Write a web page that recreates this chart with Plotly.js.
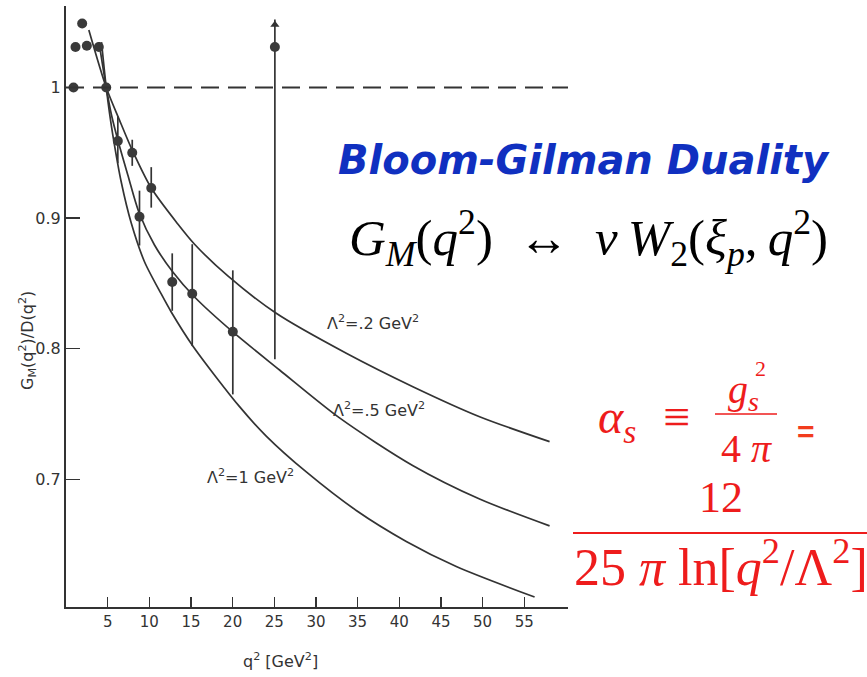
<!DOCTYPE html>
<html><head><meta charset="utf-8">
<script src="https://cdn.plot.ly/plotly-3.0.1.min.js"></script>
<style>html,body{margin:0;padding:0;background:#fff;} #chart{width:867px;height:677px;}</style>
</head><body><div id="chart"></div>
<script>
// ---- data ----
// points without error bars
const pointQ2    = [0.90, 1.14, 1.94, 2.50, 3.94, 4.83];
const pointRatio = [1.000, 1.031, 1.049, 1.032, 1.031, 1.000];

// points with error bars
const errQ2     = [6.22, 7.95, 8.82, 10.23, 12.75, 15.15, 20.02, 25.07];
const errRatio  = [0.959, 0.950, 0.901, 0.923, 0.851, 0.842, 0.813, 1.031];
const errPlus   = [0.019, 0.010, 0.020, 0.016, 0.022, 0.038, 0.047, 0.021];
const errMinus  = [0.017, 0.010, 0.022, 0.015, 0.022, 0.040, 0.048, 0.239];

// arrow head on the open-ended error bar
const arrowQ2    = [25.07];
const arrowRatio = [1.048];

// theory curves
const curveA_q2 = [2.74, 4.83, 6.42, 8.02, 10.23, 13.42, 15.43, 19.42, 25.23, 33.64, 41.63, 49.64, 58.04];
const curveA_y  = [1.044, 1.000, 0.975, 0.951, 0.923, 0.8955, 0.880, 0.8557, 0.8271, 0.7965, 0.7709, 0.7479, 0.7288];

const curveB_q2 = [3.96, 4.83, 5.46, 6.22, 7.42, 8.74, 10.62, 12.82, 15.43, 19.99, 25.63, 32.83, 41.60, 49.64, 58.04];
const curveB_y  = [1.0348, 1.000, 0.9789, 0.9598, 0.9330, 0.9047, 0.8794, 0.8587, 0.8396, 0.8130, 0.7837, 0.7470, 0.7106, 0.6849, 0.6643];

const curveC_q2 = [4.26, 4.83, 5.22, 5.62, 6.63, 7.83, 9.42, 11.43, 12.63, 15.22, 20.83, 24.03, 28.84, 34.84, 40.84, 46.84, 56.24];
const curveC_y  = [1.0348, 1.000, 0.9805, 0.9636, 0.9276, 0.8962, 0.8666, 0.8419, 0.8281, 0.8021, 0.7556, 0.7331, 0.7056, 0.6761, 0.6524, 0.6332, 0.6098];

const curveLabels = ['\u039B<sup>2</sup>=.2 GeV<sup>2</sup>', '\u039B<sup>2</sup>=.5 GeV<sup>2</sup>', '\u039B<sup>2</sup>=1 GeV<sup>2</sup>'];
const curveLabelQ2 = [36.9, 37.6, 22.15];
const curveLabelY  = [0.8204, 0.7531, 0.7018];

const xTickVals = [5, 10, 15, 20, 25, 30, 35, 40, 45, 50, 55];
const xTickText = ['5', '10', '15', '20', '25', '30', '35', '40', '45', '50', '55'];
const yTickVals = [0.7, 0.8, 0.9, 1.0];
const yTickText = ['0.7', '0.8', '0.9', '1'];

// ---- layout helpers ----
const W = 867, H = 677;
const M = {l: 66, r: 299, t: 6, b: 70};
const PW = W - M.l - M.r, PH = H - M.t - M.b;
const px = x => (x - M.l) / PW;
const py = y => (H - M.b - y) / PH;

const ink = '#333333';
const red = '#ee1c1c';

const lineStyle = {color: ink, width: 1.7, shape: 'spline', smoothing: 0.8};
const traces = [
  {x: curveA_q2, y: curveA_y, mode: 'lines', line: lineStyle, hoverinfo: 'skip'},
  {x: curveB_q2, y: curveB_y, mode: 'lines', line: lineStyle, hoverinfo: 'skip'},
  {x: curveC_q2, y: curveC_y, mode: 'lines', line: lineStyle, hoverinfo: 'skip'},
  {x: pointQ2, y: pointRatio, mode: 'markers', marker: {size: 10, color: '#3a3a3a'}},
  {x: errQ2, y: errRatio, mode: 'markers', marker: {size: 10, color: '#3a3a3a'},
   error_y: {type: 'data', symmetric: false, array: errPlus, arrayminus: errMinus,
             width: 0, thickness: 1.7, color: ink}},
  {x: arrowQ2, y: arrowRatio, mode: 'markers', marker: {symbol: 'triangle-up', size: 8, color: ink}}
];

const serif = 'Liberation Serif, Times New Roman, serif';
const annotations = [];
function paperText(x, y, text, font, extra) {
  annotations.push(Object.assign({x: px(x), y: py(y), xref: 'paper', yref: 'paper', showarrow: false,
    xanchor: 'center', yanchor: 'middle', text: text, font: font}, extra || {}));
}
curveLabels.forEach((t, i) => annotations.push({
  x: curveLabelQ2[i], y: curveLabelY[i], xref: 'x', yref: 'y', text: t, showarrow: false,
  font: {family: 'DejaVu Sans', size: 16, color: ink}, xanchor: 'center', yanchor: 'middle'
}));
// axis titles
paperText(280, 660, 'q<sup>2</sup> [GeV<sup>2</sup>]', {family: 'DejaVu Sans', size: 16, color: ink});
paperText(28, 341, 'G<sub>M</sub>(q<sup>2</sup>)/D(q<sup>2</sup>)', {family: 'DejaVu Sans', size: 16, color: ink}, {textangle: -90});
// right-side text
paperText(584, 160, '<b><i>Bloom-Gilman Duality</i></b>', {family: 'DejaVu Sans', size: 40, color: '#1030c0'});
paperText(588, 238, '<i>G</i><sub><i>M</i></sub>(<i>q</i><sup>2</sup>)\u2002\u2194\u2002<i>\u03BD\u2009W</i><sub>2</sub>(<i>\u03BE</i><sub><i>p</i></sub>,\u2009<i>q</i><sup>2</sup>)',
  {family: serif, size: 51, color: '#000'});
paperText(617, 420, '<i>\u03B1</i><sub><i>s</i></sub>', {family: serif, size: 48, color: red});
paperText(676, 416, '\u2261', {family: serif, size: 48, color: red});
paperText(743, 392, '<i>g</i><sub><i>s</i></sub>', {family: serif, size: 40, color: red});
paperText(760, 368, '2', {family: serif, size: 22, color: red});
paperText(746, 448, '4 <i>\u03C0</i>', {family: serif, size: 40, color: red});
paperText(806, 431, '<b>=</b>', {family: 'Liberation Sans', size: 30, color: '#f23c1e'});
paperText(721, 498, '12', {family: serif, size: 44, color: red});
paperText(721, 563, '25 <i>\u03C0</i> ln[<i>q</i><sup>2</sup>/\u039B<sup>2</sup>]', {family: serif, size: 52, color: red});

const shapes = [
  {type: 'line', xref: 'paper', yref: 'y', x0: 0, x1: 1, y0: 1, y1: 1,
   line: {color: ink, width: 1.8, dash: '18px,9px'}},
  {type: 'line', xref: 'paper', yref: 'paper', x0: px(715), x1: px(777), y0: py(414), y1: py(414),
   line: {color: red, width: 1.5}},
  {type: 'line', xref: 'paper', yref: 'paper', x0: px(573), x1: px(867), y0: py(533), y1: py(533),
   line: {color: red, width: 2}}
];

const layout = {
  width: W, height: H, margin: M, showlegend: false,
  paper_bgcolor: '#fff', plot_bgcolor: '#fff',
  xaxis: {range: [0, 60.25], tickvals: xTickVals, ticktext: xTickText, ticks: 'inside', ticklen: 10,
          tickwidth: 1.5, tickcolor: ink, showline: true, linecolor: ink, linewidth: 2,
          showgrid: false, zeroline: false, tickfont: {family: 'DejaVu Sans', size: 15, color: ink}},
  yaxis: {range: [0.6022, 1.0624], tickvals: yTickVals, ticktext: yTickText, ticks: 'inside', ticklen: 14,
          tickwidth: 1.5, tickcolor: ink, showline: true, linecolor: ink, linewidth: 2,
          showgrid: false, zeroline: false, tickfont: {family: 'DejaVu Sans', size: 16, color: ink}},
  annotations: annotations, shapes: shapes
};

Plotly.newPlot('chart', traces, layout, {staticPlot: true, displayModeBar: false});
</script>
</body></html>
